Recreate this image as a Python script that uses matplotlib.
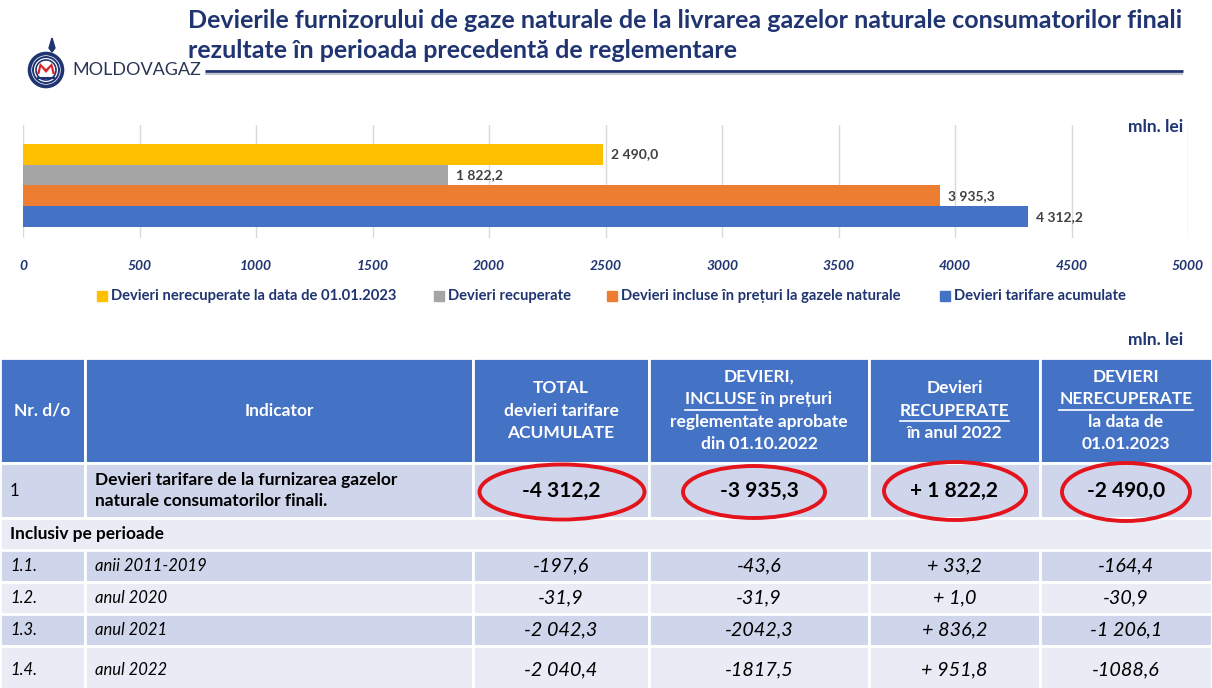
import matplotlib
matplotlib.use("Agg")
import matplotlib.pyplot as plt
from matplotlib.patches import Rectangle, Ellipse, Circle, Polygon, Wedge

plt.rcParams['font.family'] = ['Lato', 'DejaVu Sans']

# ---------------- data ----------------
title_lines = ["Devierile furnizorului de gaze naturale de la livrarea gazelor naturale consumatorilor finali",
               "rezultate în perioada precedentă de reglementare"]
brand = "MOLDOVAGAZ"
unit_label = "mln. lei"
bar_categories = ["Devieri nerecuperate la data de 01.01.2023", "Devieri recuperate",
                  "Devieri incluse în prețuri la gazele naturale", "Devieri tarifare acumulate"]
bar_values = [2490.0, 1822.2, 3935.3, 4312.2]
bar_colors = ["#FFC000", "#A5A5A5", "#ED7D31", "#4472C4"]
x_ticks = [0, 500, 1000, 1500, 2000, 2500, 3000, 3500, 4000, 4500, 5000]

header_cols = [
    [("Nr. d/o", None)],
    [("Indicator", None)],
    [("TOTAL", None), ("devieri tarifare", None), ("ACUMULATE", None)],
    [("DEVIERI,", None), ("INCLUSE în prețuri", "INCLUSE"), ("reglementate aprobate", None), ("din 01.10.2022", None)],
    [("Devieri", None), ("RECUPERATE", "RECUPERATE"), ("în anul 2022", None)],
    [("DEVIERI", None), ("NERECUPERATE", "NERECUPERATE"), ("la data de", None), ("01.01.2023", None)],
]
row1_number = "1"
row1_indicator = ["Devieri tarifare de la furnizarea gazelor", "naturale consumatorilor finali."]
row1_values = ["-4 312,2", "-3 935,3", "+ 1 822,2", "-2 490,0"]
section_label = "Inclusiv pe perioade"
period_numbers = ["1.1.", "1.2.", "1.3.", "1.4."]
period_names = ["anii 2011-2019", "anul 2020", "anul 2021", "anul 2022"]
period_total = ["-197,6", "-31,9", "-2 042,3", "-2 040,4"]
period_included = ["-43,6", "-31,9", "-2042,3", "-1817,5"]
period_recovered = ["+ 33,2", "+ 1,0", "+ 836,2", "+ 951,8"]
period_unrecovered = ["-164,4", "-30,9", "-1 206,1", "-1088,6"]


def fmt_ro(v):
    s = f"{v:,.1f}"
    return s.replace(",", " ").replace(".", ",")


# ---------------- figure ----------------
W, H = 1212, 688
fig = plt.figure(figsize=(W / 100, H / 100), dpi=100)
fig.patch.set_facecolor("white")
ov = fig.add_axes([0, 0, 1, 1])
ov.set_xlim(0, W)
ov.set_ylim(H, 0)
ov.axis("off")
renderer = fig.canvas.get_renderer()

NAVY = "#1F3470"

# title
for i, line in enumerate(title_lines):
    ov.text(188, 20 + i * 31, line, fontsize=18, fontweight="bold", color=NAVY,
            ha="left", va="center")
ov.plot([205, 1183], [71, 71], color=NAVY, lw=2, solid_capstyle="butt")
ov.plot([205, 1183], [73.5, 73.5], color="#C3C6D0", lw=1.5, solid_capstyle="butt")

# logo
for r, lw in [(16.5, 2.6), (13, 1.4), (10, 1.2)]:
    ov.add_patch(Circle((46, 70), r, fill=False, ec=NAVY, lw=lw))
ov.add_patch(Wedge((46, 70), 9, 180, 360, fc="white", ec="none"))
ov.add_patch(Polygon([[37, 74], [40, 63], [46, 69], [52, 63], [55, 74], [52.5, 74], [51, 67],
                      [46, 73], [41, 67], [39.5, 74]], closed=True, fc="#D7262E", ec="none"))
ov.plot([38, 54], [78, 78], color=NAVY, lw=1.5)
ov.add_patch(Polygon([[52, 38], [55, 48], [52, 52], [49, 48]], closed=True, fc=NAVY, ec=NAVY))
ov.text(72, 70, brand, fontsize=13, color="#2B3553", ha="left", va="center")

# unit labels
ov.text(1183, 127, unit_label, fontsize=12.5, fontweight="bold", color=NAVY, ha="right", va="center")
ov.text(1183, 340, unit_label, fontsize=12.5, fontweight="bold", color=NAVY, ha="right", va="center")

# ---------------- bar chart ----------------
ax = fig.add_axes([23 / W, 1 - 238 / H, (1188 - 23) / W, (238 - 125) / H])
ax.set_facecolor("none")
ypos = list(range(len(bar_values) - 1, -1, -1))
bars = ax.barh(ypos, bar_values, height=1.0, color=bar_colors, zorder=3)
for b, v in zip(bars, bar_values):
    ax.text(v + 35, b.get_y() + b.get_height() / 2, fmt_ro(v), fontsize=10, fontweight="bold",
            color="#404040", ha="left", va="center", zorder=4)
ax.set_xlim(0, 5000)
ax.set_ylim(-1.03, 4.41)
ax.set_xticks(x_ticks)
ax.set_xticklabels([str(t) for t in x_ticks], fontsize=10, fontweight="bold", style="italic", color=NAVY)
ax.set_yticks([])
ax.tick_params(axis="x", length=0, pad=16)
ax.grid(axis="x", color="#D9D9D9", lw=1, zorder=0)
for s in ax.spines.values():
    s.set_visible(False)

# legend (manual)
leg_x = [97, 434, 607, 940]
for x, lab, c in zip(leg_x, bar_categories, bar_colors):
    ov.add_patch(Rectangle((x, 291), 10, 10, color=c))
    ov.text(x + 14, 296, lab, fontsize=10.6, fontweight="bold", color=NAVY, ha="left", va="center")

# ---------------- table ----------------
col_edges = [0, 85, 473, 649, 869, 1040, 1212]
row_edges = [358, 463, 518, 550, 582, 614, 646, 700]
HEAD = "#4472C4"
DARK = "#CFD5EA"
LIGHT = "#E9EBF5"
row_fills = [HEAD, DARK, LIGHT, DARK, LIGHT, DARK, LIGHT]

for r in range(len(row_edges) - 1):
    y0, y1 = row_edges[r], row_edges[r + 1]
    if r == 2:
        ov.add_patch(Rectangle((0, y0), W, y1 - y0, fc=row_fills[r], ec="white", lw=2))
        continue
    for c in range(len(col_edges) - 1):
        x0, x1 = col_edges[c], col_edges[c + 1]
        ov.add_patch(Rectangle((x0, y0), x1 - x0, y1 - y0, fc=row_fills[r], ec="white", lw=2))

centers = [(col_edges[i] + col_edges[i + 1]) / 2 for i in range(len(col_edges) - 1)]

# header
hy = (row_edges[0] + row_edges[1]) / 2
lh = 22.5
HFS = 12.5
for ci, lines in enumerate(header_cols):
    n = len(lines)
    for li, (txt, ul) in enumerate(lines):
        y = hy + (li - (n - 1) / 2) * lh
        t = ov.text(centers[ci], y, txt, fontsize=HFS, fontweight="bold", color="white",
                    ha="center", va="center")
        if ul:
            bb = t.get_window_extent(renderer)
            tmp = ov.text(0, 0, ul, fontsize=HFS, fontweight="bold")
            wsub = tmp.get_window_extent(renderer).width
            tmp.remove()
            ov.plot([bb.x0, bb.x0 + wsub], [y + 10.5, y + 10.5], color="white", lw=1.2)

# row 1
r1y = (row_edges[1] + row_edges[2]) / 2
ov.text(10, r1y, row1_number, fontsize=12, color="black", ha="left", va="center")
for li, txt in enumerate(row1_indicator):
    ov.text(95, r1y - 11 + li * 22, txt, fontsize=12.5, fontweight="bold", color="black",
            ha="left", va="center")
ell = [(562, 492, 165, 55), (754, 492, 142, 52), (955, 491, 142, 58), (1126, 492, 128, 58)]
for ci, txt in enumerate(row1_values):
    ov.text(centers[ci + 2], r1y, txt, fontsize=15, fontweight="bold", color="black",
            ha="center", va="center")
    ex, ey, ew, eh = ell[ci]
    ov.add_patch(Ellipse((ex, ey), ew, eh, fill=False, ec="#E3141C", lw=2.8))

# section row
sy = (row_edges[2] + row_edges[3]) / 2
ov.text(10, sy, section_label, fontsize=12.4, fontweight="bold", color="black", ha="left", va="center")

# period rows
period_y = [566, 598, 630, 670]
for i in range(len(period_numbers)):
    y = period_y[i]
    ov.text(10, y, period_numbers[i], fontsize=12, style="italic", color="black", ha="left", va="center")
    ov.text(95, y, period_names[i], fontsize=12, style="italic", color="black", ha="left", va="center")
    for ci, vals in enumerate([period_total, period_included, period_recovered, period_unrecovered]):
        ov.text(centers[ci + 2], y, vals[i], fontsize=14.2, style="italic", color="black",
                ha="center", va="center")

fig.savefig("out.png", dpi=100, facecolor="white")
